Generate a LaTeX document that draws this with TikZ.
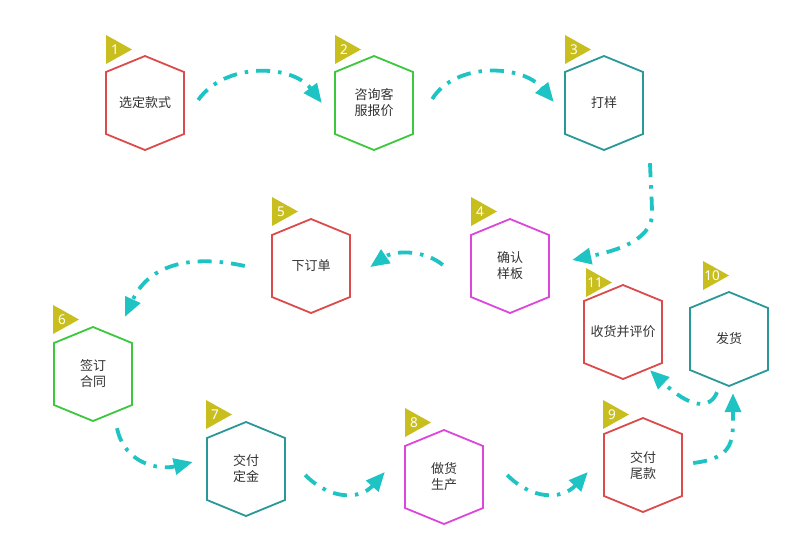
\documentclass[tikz,border=0pt]{standalone}
\usepackage{fontspec}
\newfontfamily\cjk{Noto Sans CJK SC}
\newfontfamily\numfont{Noto Sans}
\usetikzlibrary{arrows.meta,calc}
\definecolor{hred}{HTML}{DC4B4B}
\definecolor{hgreen}{HTML}{3CC83C}
\definecolor{hteal}{HTML}{2A9898}
\definecolor{hmag}{HTML}{DC46DC}
\definecolor{flagc}{HTML}{C8BE1E}
\definecolor{arrc}{HTML}{1EC3C3}
\definecolor{txt}{HTML}{333333}
\tikzset{
  hexbox/.style={minimum width=78pt, minimum height=94pt, inner sep=0pt, align=center,
    font=\cjk\fontsize{13}{16}\selectfont, text=txt},
  hexline/.style={line width=1.8pt},
  flow/.style={draw=arrc, line width=3.8pt, dash pattern=on 14pt off 8pt on 3.5pt off 8pt,
    -{Triangle[length=19pt,width=16pt,fill=arrc]}},
  flagnum/.style={text=white, font=\numfont\fontsize{13.5}{13.5}\selectfont, inner sep=0pt},
}
\newcommand\hexa[4]{%
  \node[hexbox] (#1) at (#2) {#4};
  \draw[hexline,#3] ($(#1.center)+(0,-47)$) -- ++(39,16) -- ++(0,62) -- ++(-39,16)
    -- ++(-39,-16) -- ++(0,-62) -- cycle;
}
\newcommand\flagtri[4]{%
  \fill[flagc] (#2,#3) -- ++(26,14.5) -- ++(-26,14.5) -- cycle;
  \node[flagnum] (#1) at (#2+9,#3+14.5) {#4};
}
\begin{document}
\begin{tikzpicture}[x=1pt,y=-1pt]
\fill[white] (0,0) rectangle (800,550);
\useasboundingbox (0,0) rectangle (800,550);

\hexa{h1}{145,103}{hred}{选定款式}
\hexa{h2}{374,103}{hgreen}{咨询客\\服报价}
\hexa{h3}{604,103}{hteal}{打样}
\hexa{h4}{510,266}{hmag}{确认\\样板}
\hexa{h5}{311,266}{hred}{下订单}
\hexa{h6}{93,374}{hgreen}{签订\\合同}
\hexa{h7}{246,469}{hteal}{交付\\定金}
\hexa{h8}{444,477}{hmag}{做货\\生产}
\hexa{h9}{643,465}{hred}{交付\\尾款}
\hexa{h10}{729,339}{hteal}{发货}
\hexa{h11}{623,332}{hred}{收货并评价}

\flagtri{f1}{106}{35}{1}
\flagtri{f2}{335}{35}{2}
\flagtri{f3}{565}{35}{3}
\flagtri{f4}{471}{197}{4}
\flagtri{f5}{272}{197}{5}
\flagtri{f6}{53}{305}{6}
\flagtri{f7}{206}{400}{7}
\flagtri{f8}{405}{408}{8}
\flagtri{f9}{603}{400}{9}
\flagtri{f10}{703}{261}{10}
\flagtri{f11}{586}{268}{11}

\draw[flow] ($(h1.east)+(14,-3)$) .. controls (225,62) and (292,64) .. ($(h2.west)+(-13,0)$);
\draw[flow] ($(h2.east)+(19,-4)$) .. controls (455,62) and (522,64) .. ($(h3.west)+(-11,-1)$);
\draw[flow] ($(h3.south)+(46,13)$) .. controls (651,190) and (652,200) .. (652,217)
  .. controls (648,240) and (620,250) .. ($(h4.east)+(23,-6)$);
\draw[flow] ($(h4.west)+(-28,-1)$) .. controls (425,250) and (395,250) .. ($(h5.east)+(20,1)$);
\draw[flow] ($(h5.west)+(-27,0)$) .. controls (195,255) and (150,262) .. ($(h6.north)+(32,-10)$);
\draw[flow] ($(h6.south)+(24,7)$) .. controls (125,465) and (160,470) .. ($(h7.west)+(-14,-7)$);
\draw[flow] ($(h7.east)+(20,6)$) .. controls (330,500) and (360,500) .. ($(h8.west)+(-20,-5)$);
\draw[flow] ($(h8.east)+(24,-2)$) .. controls (532,500) and (562,500) .. ($(h9.west)+(-16,7)$);
\draw[flow] ($(h9.east)+(11,-2)$) .. controls (735,458) and (733,440) .. ($(h10.south)+(4,7)$);
\draw[flow] ($(h10.south)+(-12,6)$) .. controls (710,410) and (690,408) .. ($(h11.south)+(27,-9)$);
\end{tikzpicture}
\end{document}
